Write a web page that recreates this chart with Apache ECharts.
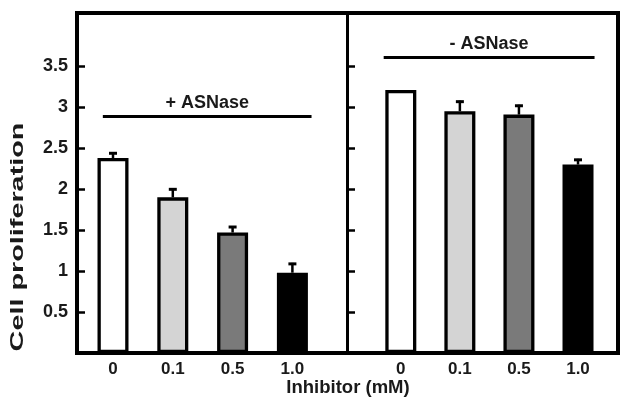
<!DOCTYPE html>
<html>
<head>
<meta charset="utf-8">
<script src="https://cdn.jsdelivr.net/npm/echarts@6/dist/echarts.min.js"></script>
<style>
html,body{margin:0;padding:0;background:#fff;}
#chart{width:631px;height:412px;}
</style>
</head>
<body>
<div id="chart"></div>
<script>
// ---- data ----
var categories = ['0', '0.1', '0.5', '1.0'];
var plusValues = [2.38, 1.90, 1.47, 0.98];
var plusErrors = [0.07, 0.11, 0.08, 0.12];
var minusValues = [3.21, 2.95, 2.91, 2.30];
var minusErrors = [0, 0.13, 0.12, 0.07];
var yTicks = [0.5, 1, 1.5, 2, 2.5, 3, 3.5];
var groupLabels = ['+ ASNase', '- ASNase'];
var barColors = ['#ffffff', '#d4d4d4', '#7a7a7a', '#000000'];
var xTitle = 'Inhibitor (mM)';
var yTitle = 'Cell proliferation';

var FONT = "'Liberation Sans', Arial, sans-serif";
var TXT = '#1a1a1a';
var idx = categories.map(function (c, i) { return i; });

function barData(vals) {
  return vals.map(function (v, i) {
    return { value: [i, v], itemStyle: { color: barColors[i] } };
  });
}
function errData(vals, errs) {
  return vals.map(function (v, i) { return [i, v, errs[i]]; });
}
function renderErr(params, api) {
  var x = api.value(0), v = api.value(1), e = api.value(2);
  if (!e) return null;
  var p0 = api.coord([x, v]);
  var p1 = api.coord([x, v + e]);
  return {
    type: 'group',
    children: [
      { type: 'line', shape: { x1: p0[0], y1: p0[1], x2: p1[0], y2: p1[1] },
        style: { stroke: '#000', lineWidth: 2.5 } },
      { type: 'line', shape: { x1: p1[0] - 4, y1: p1[1] + 1, x2: p1[0] + 4, y2: p1[1] + 1 },
        style: { stroke: '#000', lineWidth: 3 } }
    ]
  };
}

function xAxisBottom(grid, min, max) {
  return {
    type: 'value', gridIndex: grid, min: min, max: max, position: 'bottom',
    axisLine: { show: true, onZero: false, lineStyle: { color: '#000', width: 4, cap: 'square' } },
    axisTick: { show: false },
    splitLine: { show: false },
    axisLabel: {
      customValues: idx, margin: 8,
      formatter: function (v) { return categories[Math.round(v)]; },
      color: TXT, fontSize: 17, fontWeight: 'bold', fontFamily: FONT
    }
  };
}
function xAxisTop(grid, min, max) {
  return {
    type: 'value', gridIndex: grid, min: min, max: max, position: 'top',
    axisLine: { show: true, onZero: false, lineStyle: { color: '#000', width: 4, cap: 'square' } },
    axisTick: { show: false }, axisLabel: { show: false }, splitLine: { show: false }
  };
}

var YMAX = 4.15;
var option = {
  animation: false,
  backgroundColor: '#fff',
  grid: [
    { left: 77, top: 13, width: 270, height: 340 },
    { left: 347, top: 13, width: 271, height: 340 }
  ],
  xAxis: [
    xAxisBottom(0, -0.602, 3.913),
    xAxisTop(0, -0.602, 3.913),
    xAxisBottom(1, -0.911, 3.677),
    xAxisTop(1, -0.911, 3.677)
  ],
  yAxis: [
    {
      type: 'value', gridIndex: 0, min: 0, max: YMAX, position: 'left',
      axisLine: { show: true, onZero: false, lineStyle: { color: '#000', width: 4, cap: 'square' } },
      axisTick: { show: true, inside: true, length: 8, customValues: yTicks, lineStyle: { color: '#000', width: 2.5 } },
      axisLabel: { customValues: yTicks, margin: 9, color: TXT, fontSize: 18, fontWeight: 'bold', fontFamily: FONT },
      splitLine: { show: false }
    },
    {
      type: 'value', gridIndex: 1, min: 0, max: YMAX, position: 'left',
      axisLine: { show: true, onZero: false, lineStyle: { color: '#000', width: 3 } },
      axisTick: { show: true, inside: true, length: 8, customValues: yTicks, lineStyle: { color: '#000', width: 2.5 } },
      axisLabel: { show: false },
      splitLine: { show: false }
    },
    {
      type: 'value', gridIndex: 1, min: 0, max: YMAX, position: 'right',
      axisLine: { show: true, onZero: false, lineStyle: { color: '#000', width: 4, cap: 'square' } },
      axisTick: { show: false }, axisLabel: { show: false }, splitLine: { show: false }
    }
  ],
  series: [
    {
      type: 'custom', xAxisIndex: 0, yAxisIndex: 0, renderItem: renderErr,
      data: errData(plusValues, plusErrors), z: 1
    },
    {
      type: 'bar', xAxisIndex: 0, yAxisIndex: 0, barWidth: 31, z: 2,
      itemStyle: { borderColor: '#000', borderWidth: 3.3 },
      data: barData(plusValues),
      markLine: {
        silent: true, symbol: 'none',
        lineStyle: { color: '#000', width: 3, type: 'solid' },
        label: { show: true, position: 'middle', distance: 4, formatter: groupLabels[0],
          color: TXT, fontSize: 18, fontWeight: 'bold', fontFamily: FONT },
        data: [[{ coord: [-0.17, 2.89] }, { coord: [3.32, 2.89] }]]
      }
    },
    {
      type: 'custom', xAxisIndex: 2, yAxisIndex: 1, renderItem: renderErr,
      data: errData(minusValues, minusErrors), z: 1
    },
    {
      type: 'bar', xAxisIndex: 2, yAxisIndex: 1, barWidth: 31, z: 2,
      itemStyle: { borderColor: '#000', borderWidth: 3.3 },
      data: barData(minusValues),
      markLine: {
        silent: true, symbol: 'none',
        lineStyle: { color: '#000', width: 3, type: 'solid' },
        label: { show: true, position: 'middle', distance: 4, formatter: groupLabels[1],
          color: TXT, fontSize: 18, fontWeight: 'bold', fontFamily: FONT },
        data: [[{ coord: [-0.29, 3.61] }, { coord: [3.28, 3.61] }]]
      }
    }
  ],
  graphic: [
    { type: 'text', x: 348, y: 388,
      style: { text: xTitle, fill: TXT, font: 'bold 18.5px ' + FONT, align: 'center', verticalAlign: 'middle' } },
    { type: 'text', x: 18, y: 237, rotation: Math.PI / 2, scaleX: 1.6,
      style: { text: yTitle, fill: TXT, font: 'bold 18px ' + FONT, align: 'center', verticalAlign: 'middle' } }
  ]
};

var chart = echarts.init(document.getElementById('chart'), null, { renderer: 'canvas' });
chart.setOption(option);
</script>
</body>
</html>
